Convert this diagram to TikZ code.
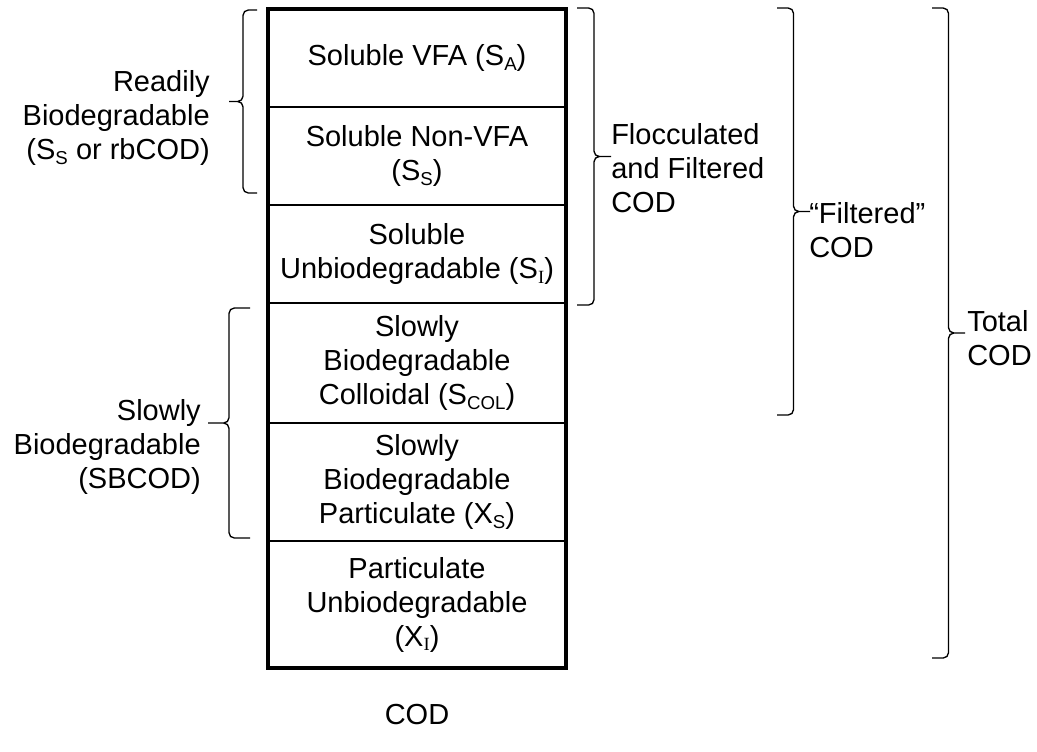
\documentclass[tikz,border=0pt]{standalone}
\usepackage{fontspec}
\setmainfont{Liberation Sans}
\newfontfamily\romanI{Liberation Serif}
\usetikzlibrary{positioning,calc}
\newcommand{\ix}[1]{\raisebox{-3.5pt}{\fontsize{14}{14}\selectfont #1}}

\begin{document}
\begin{tikzpicture}[x=0.75pt,y=-0.75pt,font=\fontsize{21.75}{25.5}\selectfont,
 layer/.style={draw,line width=1.5pt,minimum width=223.5pt,align=center,inner sep=0pt,outer sep=0pt},
 curly/.style={line width=1pt,rounded corners=4pt,
  to path={-- ++(#1,0) |- ($(\tikztostart)!.5!(\tikztotarget)+({2*(#1)},0)$)
   ($(\tikztostart)!.5!(\tikztotarget)+({2*(#1)},0)$) -| ($(\tikztotarget)+(#1,0)$) -- (\tikztotarget)}},
 lbl/.style={inner sep=0pt}]
\useasboundingbox (0,0) rectangle (1037,751);
\node[layer,minimum height=73.5pt,anchor=north] (va) at (417,9) {Soluble VFA (S\ix{A})};
\node[layer,minimum height=73.5pt,below=0pt of va] (nv) {Soluble Non-VFA\\(S\ix{S})};
\node[layer,minimum height=73.5pt,below=0pt of nv] (si) {Soluble\\Unbiodegradable (S\ix{\romanI I})};
\node[layer,minimum height=90pt,below=0pt of si] (col) {Slowly\\Biodegradable\\Colloidal (S\ix{COL})};
\node[layer,minimum height=88.5pt,below=0pt of col] (xs) {Slowly\\Biodegradable\\Particulate (X\ix{S})};
\node[layer,minimum height=95.25pt,below=0pt of xs] (xi) {Particulate\\Unbiodegradable\\(X\ix{\romanI I})};
\draw[line width=2.6pt] (va.north west) rectangle (xi.south east);
\node[below=24pt of xi] (cod) {COD};
\coordinate (rb1) at (257,10); \coordinate (rb2) at (257,193);
\coordinate (sb1) at (250,308); \coordinate (sb2) at (250,538);
\coordinate (ff1) at (577,8); \coordinate (ff2) at (577,305);
\coordinate (fi1) at (777,8); \coordinate (fi2) at (777,415);
\coordinate (tc1) at (932,8); \coordinate (tc2) at (932,658);
\draw[curly=-14] (rb1) to (rb2);
\draw[curly=-21] (sb1) to (sb2);
\draw[curly=17] (ff1) to (ff2);
\draw[curly=16.5] (fi1) to (fi2);
\draw[curly=16.5] (tc1) to (tc2);
\node[lbl,align=right,anchor=east] (rb) at (210,118) {Readily\\Biodegradable\\(S\ix{S} or rbCOD)};
\node[lbl,align=right,anchor=east] (sb) at (201,447) {Slowly\\Biodegradable\\(SBCOD)};
\node[lbl,align=left,anchor=west] (ff) at (611,168) {Flocculated\\and Filtered\\COD};
\node[lbl,align=left,anchor=west] (fi) at (809,230) {“Filtered”\\COD};
\node[lbl,align=left,anchor=west] (tc) at (967,338) {Total\\COD};
\end{tikzpicture}
\end{document}
